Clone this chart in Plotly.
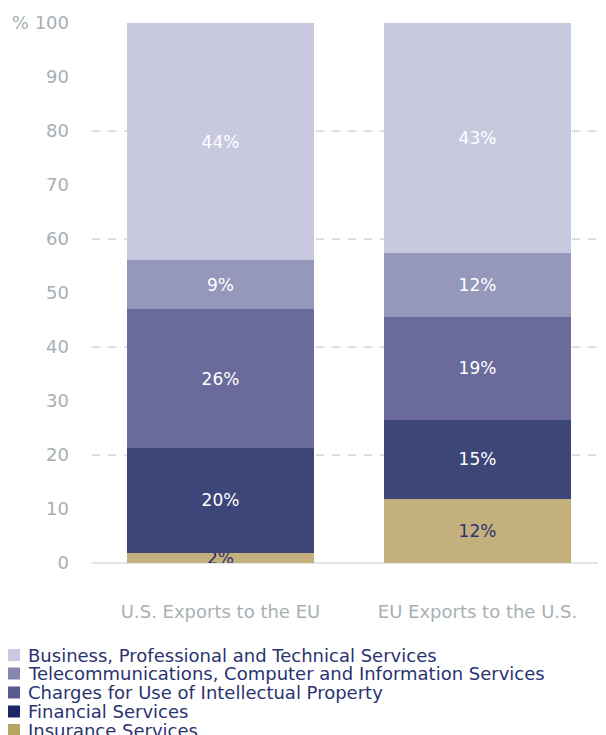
import plotly.graph_objects as go

categories = ["U.S. Exports to the EU", "EU Exports to the U.S."]
series_names = [
    "Insurance Services",
    "Financial Services",
    "Charges for Use of Intellectual Property",
    "Telecommunications, Computer and Information Services",
    "Business, Professional and Technical Services",
]
us_values = [1.9, 19.4, 25.7, 9.1, 43.9]
eu_values = [11.9, 14.6, 19.1, 11.8, 42.6]
us_labels = ["2%", "20%", "26%", "9%", "44%"]
eu_labels = ["12%", "15%", "19%", "12%", "43%"]

bar_colors = ["#c4b07c", "#3d4679", "#6a6a9b", "#9597bb", "#c8c9df"]
legend_colors = ["#b8a563", "#1c2766", "#565a90", "#8585b2", "#c9c9df"]
text_colors = ["#2a3370", "white", "white", "white", "white"]

FONT = "DejaVu Sans"
TICK_COLOR = "#a7afb3"

fig = go.Figure()
for i, name in enumerate(series_names):
    fig.add_trace(go.Bar(
        x=categories,
        y=[us_values[i], eu_values[i]],
        name=name,
        marker=dict(color=bar_colors[i], line=dict(width=0)),
        text=[us_labels[i], eu_labels[i]],
        textposition="inside",
        insidetextanchor="middle",
        constraintext="none",
        textfont=dict(color=text_colors[i], size=17, family=FONT),
        hoverinfo="skip",
        showlegend=False,
    ))

# dummy trace to activate the grid axis
fig.add_trace(go.Scatter(x=categories, y=[None, None], yaxis="y2",
                         showlegend=False, hoverinfo="skip"))

# the page body has an 8px margin, so the figure is sized/offset to compensate
fig.update_layout(
    width=598, height=727,
    margin=dict(l=84, r=0, t=15, b=172),
    plot_bgcolor="white", paper_bgcolor="white",
    barmode="stack",
    bargap=0.276,
    font=dict(family=FONT),
    xaxis=dict(
        showgrid=False, showline=False, zeroline=False, automargin=False,
        tickfont=dict(size=18, color=TICK_COLOR, family=FONT),
        ticklabelstandoff=36,
    ),
    yaxis=dict(
        range=[0, 100], showgrid=False, zeroline=True, automargin=False,
        zerolinecolor="#e3e3e3", zerolinewidth=2,
        tickvals=list(range(0, 101, 10)),
        ticktext=[str(v) for v in range(0, 100, 10)] + ["% 100"],
        tickfont=dict(size=18, color=TICK_COLOR, family=FONT),
        ticklabelstandoff=22,
    ),
    yaxis2=dict(
        range=[0, 100], overlaying="y", tickvals=[20, 40, 60, 80, 100],
        showgrid=True, gridcolor="#e0e0e0", gridwidth=2, griddash="8px,8px",
        showticklabels=False, zeroline=False, automargin=False,
    ),
)

# custom legend (top item first), positioned in paper coordinates
# (page pixel -> plot paper fraction; plot spans x 92..606, y 23..563)
def py(pix):
    return (563 - pix) / 540.0

def px(pix):
    return (pix - 92) / 514.0

order = list(range(len(series_names)))[::-1]
row_y = [655, 673.5, 692.5, 711.5, 730]
for k, i in enumerate(order):
    yc = row_y[k]
    fig.add_shape(type="rect", xref="paper", yref="paper",
                  x0=px(8), x1=px(20), y0=py(yc + 6), y1=py(yc - 6),
                  fillcolor=legend_colors[i], line=dict(width=0))
    fig.add_annotation(xref="paper", yref="paper", x=px(26), y=py(yc),
                       xanchor="left", yanchor="middle", showarrow=False,
                       text=series_names[i],
                       font=dict(size=18, color="#2a3370", family=FONT))

fig.write_html("out.html")
